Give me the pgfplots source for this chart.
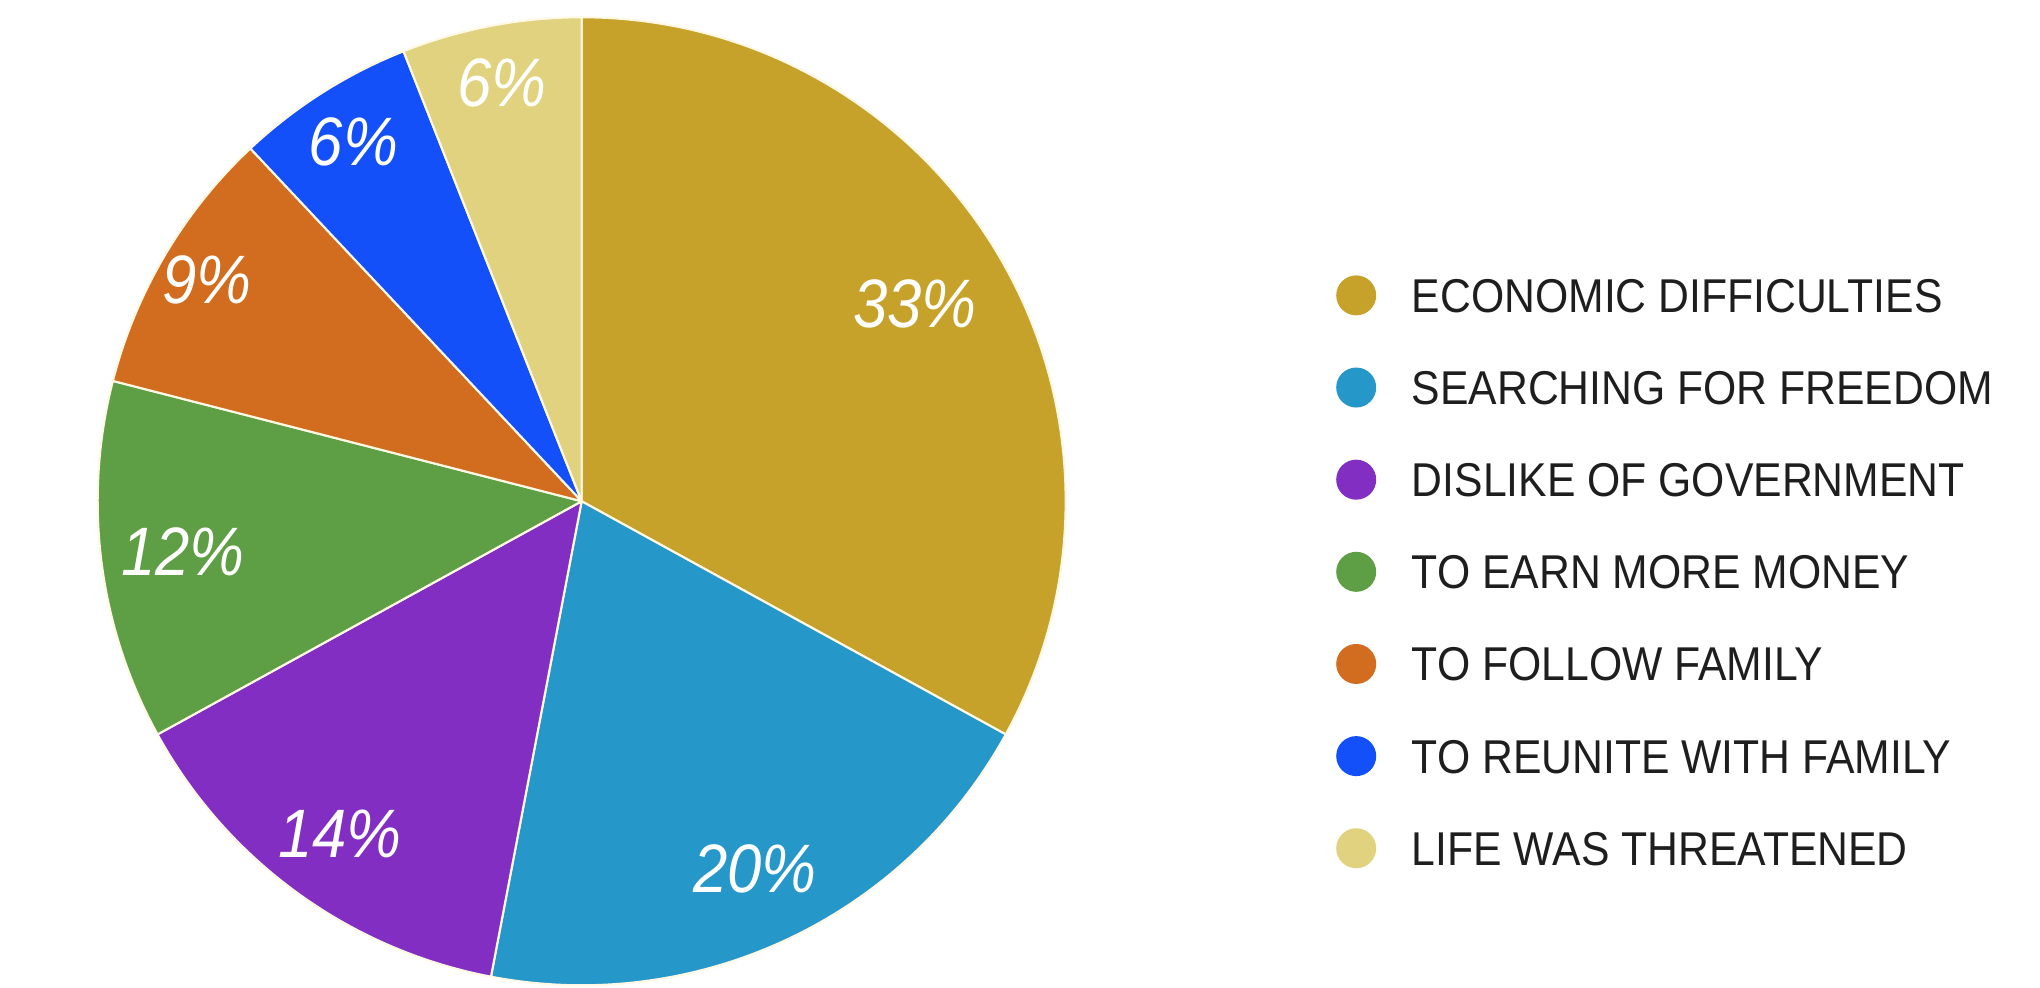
\documentclass[border=0pt]{standalone}
\usepackage{fontspec}
\setmainfont{Liberation Sans}[FakeStretch=0.9]
\usepackage{pgfplots}
\usepackage{pgfplotstable}
\pgfplotsset{compat=1.18}
\definecolor{cA}{HTML}{C6A22A}
\definecolor{cB}{HTML}{2697C9}
\definecolor{cC}{HTML}{822EC2}
\definecolor{cD}{HTML}{5E9E44}
\definecolor{cE}{HTML}{D26C1F}
\definecolor{cF}{HTML}{1450FA}
\definecolor{cG}{HTML}{E0D27E}
\definecolor{sep}{HTML}{FFF8E4}
\definecolor{legtext}{HTML}{1E1E1E}

\pgfplotstableread[col sep=comma]{
val,col,lr,name
33,cA,0.80,ECONOMIC DIFFICULTIES
20,cB,0.84,SEARCHING FOR FREEDOM
14,cC,0.85,DISLIKE OF GOVERNMENT
12,cD,0.83,TO EARN MORE MONEY
9,cE,0.90,TO FOLLOW FAMILY
6,cF,0.88,TO REUNITE WITH FAMILY
6,cG,0.88,LIFE WAS THREATENED
}\piedata

\begin{document}
\begin{tikzpicture}
\begin{axis}[
  x=0.01cm, y=0.01cm,
  xmin=0, xmax=2040, ymin=0, ymax=988,
  hide axis, clip=false,
]
\pgfplotsextra{
  \gdef\cumul{0}
  \foreach \i in {0,...,6}{
    \pgfplotstablegetelem{\i}{val}\of\piedata \let\v\pgfplotsretval
    \pgfplotstablegetelem{\i}{col}\of\piedata \let\slicecol\pgfplotsretval
    \pgfplotstablegetelem{\i}{lr}\of\piedata \let\lr\pgfplotsretval
    \pgfplotstablegetelem{\i}{name}\of\piedata \let\nm\pgfplotsretval
    \pgfmathsetmacro\sa{90-3.6*\cumul}
    \pgfmathsetmacro\ea{90-3.6*(\cumul+\v)}
    \pgfmathsetmacro\ma{(\sa+\ea)/2}
    \pgfmathsetmacro\lrad{\lr*4.84}
    \filldraw[fill=\slicecol, draw=sep, line width=0.6pt, line join=round]
      (axis cs:582,487) -- ++(\sa:4.84cm) arc[start angle=\sa, end angle=\ea, radius=4.84cm] -- cycle;
    \path (axis cs:582,487) ++(\ma:\lrad cm) node[text=white, font=\fontsize{19.5}{22}\selectfont\itshape, inner sep=0pt] {\v\%};
    \pgfmathsetmacro\ly{693-92.2*\i}
    \fill[\slicecol] (axis cs:1357,\ly) circle[radius=0.2cm];
    \pgfmathsetmacro\lyb{\ly-17}
    \node[anchor=base west, inner sep=0pt, text=legtext, font=\fontsize{13.5}{16}\selectfont] at (axis cs:1412,\lyb) {\nm};
    \pgfmathsetmacro\newcum{\cumul+\v}
    \global\let\cumul\newcum
  }
}
\end{axis}
\pgfresetboundingbox
\useasboundingbox (0,0) rectangle (20.4cm,9.88cm);
\end{tikzpicture}
\end{document}
